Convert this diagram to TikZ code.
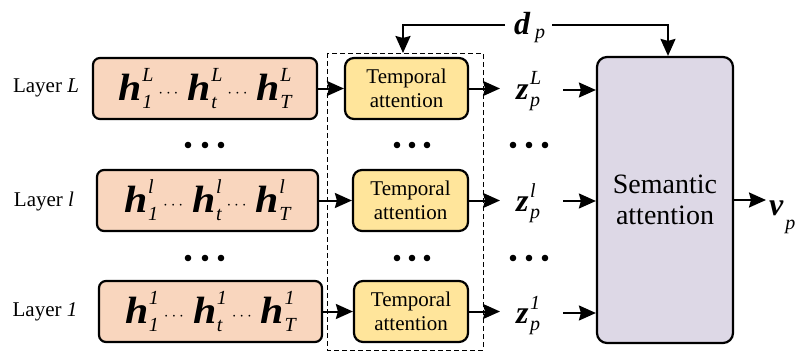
\documentclass[tikz,border=0pt]{standalone}
\usepackage{fontspec}
\setmainfont{Liberation Serif}
\usetikzlibrary{arrows.meta}
\definecolor{peach}{RGB}{249,214,190}
\definecolor{gold}{RGB}{255,229,155}
\definecolor{lav}{RGB}{221,216,230}
\newcommand\scfont{\fontsize{20}{20}\selectfont\itshape}
% #1 sub, #2 sup, #3 sup raise, #4 sub lower
\newcommand\mySS[4]{%
  \setbox0\hbox{\scfont #1}\setbox2\hbox{\scfont #2}%
  \ifdim\wd0>\wd2 \dimen0=\wd0 \else \dimen0=\wd2 \fi
  \rlap{\raisebox{#3}{\box2}}\rlap{\raisebox{-#4}{\box0}}\kern\dimen0 }
\newcommand\bigv[1]{{\bfseries\itshape #1}}
\newcommand\hv[2]{\scalebox{1.1}[1]{\bigv{h}}\kern0.5pt\mySS{#1}{#2}{19pt}{8pt}}
\newcommand\mdots{\hspace{5pt}{\fontsize{19}{19}\selectfont\raisebox{3pt}{$\cdots$}}\hspace{9pt}}
\begin{document}
\begin{tikzpicture}[x=1pt,y=-1pt,
  hbox/.style={draw,line width=2.2pt,rounded corners=7pt,fill=peach,minimum height=61pt,inner sep=0pt,font=\fontsize{38}{38}\selectfont},
  tbox/.style={draw,line width=2.2pt,rounded corners=9pt,fill=gold,minimum height=61pt,align=center,inner sep=0pt,font=\fontsize{21}{24}\selectfont},
  sbox/.style={draw,line width=2.2pt,rounded corners=10pt,fill=lav,align=center,inner sep=0pt,font=\fontsize{28}{31}\selectfont},
  lbl/.style={font=\fontsize{21}{21}\selectfont,inner sep=0pt},
  vlbl/.style={font=\fontsize{32}{32}\selectfont,inner sep=0pt},
  arr/.style={line width=2pt,-{Stealth[length=17pt,width=15pt,inset=2pt]}},
  dotc/.style={fill=black}
]
\useasboundingbox (0,0) rectangle (808,353);
% dashed frame
\draw[dashed,line width=0.9pt,dash pattern=on 5pt off 3pt] (327,53) rectangle (483,350);
% layer labels
\node[lbl] (LL) at (46,88) {Layer \textit{L}};
\node[lbl] (Ll) at (44,201) {Layer \textit{l}};
\node[lbl] (L1) at (45,312) {Layer \textit{1}};
% h boxes
\node[hbox,minimum width=224pt] (hL) at (205,88.5) {\hv{1}{L}\mdots\hv{t}{L}\mdots\hv{T}{L}};
\node[hbox,minimum width=221pt] (hl) at (207.5,200.5) {\hv{1}{l}\mdots\hv{t}{l}\mdots\hv{T}{l}};
\node[hbox,minimum width=223pt] (h1) at (210.5,311.5) {\hv{1}{1}\mdots\hv{t}{1}\mdots\hv{T}{1}};
% temporal boxes
\node[tbox,minimum width=123pt] (tL) at (406.5,88.5) {Temporal\\attention};
\node[tbox,minimum width=115pt] (tl) at (410.5,200.5) {Temporal\\attention};
\node[tbox,minimum width=114pt] (t1) at (411,311.5) {Temporal\\attention};
% semantic
\node[sbox,minimum width=136pt,minimum height=286pt] (S) at (665,200) {Semantic\\attention};
% z labels
\node[vlbl,anchor=base west] (zL) at (516,99) {\bigv{z}\kern1.5pt\mySS{p}{L}{14pt}{7pt}};
\node[vlbl,anchor=base west] (zl) at (516,211) {\bigv{z}\kern1.5pt\mySS{p}{l}{14pt}{7pt}};
\node[vlbl,anchor=base west] (z1) at (516,323) {\bigv{z}\kern1.5pt\mySS{p}{1}{14pt}{7pt}};
\coordinate (zLa) at (563,90);
\coordinate (zla) at (563,201);
\coordinate (z1a) at (563,313);
% d_p
\node[vlbl,anchor=base west] (d) at (514,35) {\bigv{d}\kern5pt\raisebox{-4pt}{\scfont p}};
\coordinate (dL) at (403,25);
\coordinate (dR) at (552,25);
\coordinate (dl) at (505,25);
% v_p
\node[vlbl,anchor=base west] (v) at (769,215) {\bigv{v}\kern2pt\raisebox{-14pt}{\scfont p}};
\coordinate (va) at (766,200);
% arrows
\draw[arr] (hL.east) -- (tL.west);
\draw[arr] (hl.east) -- (tl.west);
\draw[arr] (h1.east) -- (t1.west);
\draw[arr] (tL.east) -- (500,88.5);
\draw[arr] (tl.east) -- (500,200.5);
\draw[arr] (t1.east) -- (500,311.5);
\draw[arr] (zLa) -- (S.west |- zLa);
\draw[arr] (zla) -- (S.west |- zla);
\draw[arr] (z1a) -- (S.west |- z1a);
\draw[arr] (dl) -- (dL) -- (403,53);
\draw[arr] (dR) -- (668,25) -- (S.north -| 668,0);
\draw[arr] (S.east |- va) -- (va);
% dots
\foreach \x/\n in {188/a,205/b,221/c,397/d,412/e,427/f,513/g,529/h,545/i}{
  \fill[dotc] (\x,145) circle (3.3);
  \fill[dotc] (\x,258) circle (3.3);
}
\end{tikzpicture}
\end{document}
